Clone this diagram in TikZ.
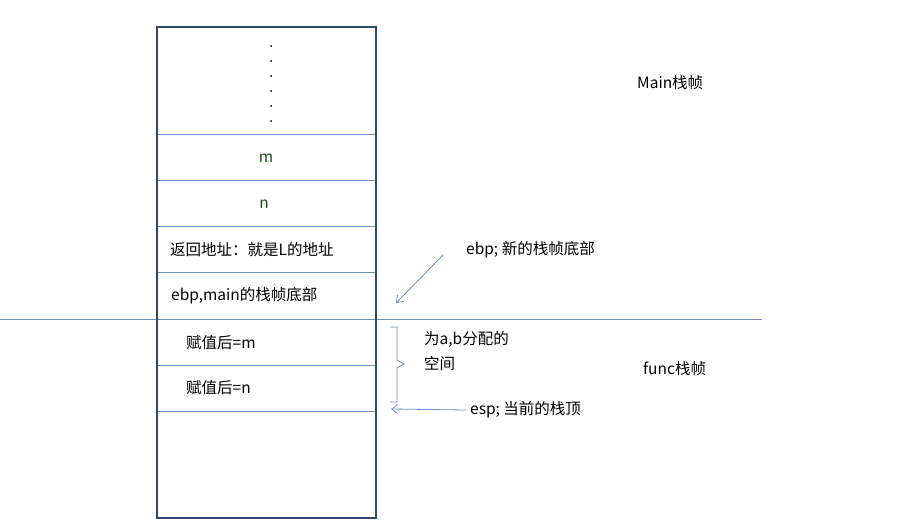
\documentclass[tikz,border=0pt]{standalone}
\usepackage{fontspec}
\usetikzlibrary{arrows.meta}
\setmainfont{Noto Sans CJK SC}
\begin{document}
\begin{tikzpicture}[x=1pt,y=-1pt,
  every node/.style={font=\fontsize{15.5}{17}\selectfont,inner sep=0pt,anchor=west},
  cell/.style={draw=cellline,line width=0.8pt},
  arr/.style={draw=cellline,line width=0.8pt,-{Straight Barb[length=6pt,width=9pt]}}]
\definecolor{boxline}{HTML}{2E4A6B}
\definecolor{cellline}{HTML}{6A8FC4}
\definecolor{tgreen}{HTML}{1E4A1E}
\useasboundingbox (0,0) rectangle (918,525);
\foreach \y in {134,180,226,272,365,411} \draw[cell] (157,\y) -- (376,\y);
\draw[cell] (0,319) -- (762,319);
\draw[draw=boxline,line width=1.4pt] (157,27) rectangle (376,518);
\foreach \y in {46,61,76,91,106,121} \fill (271,\y) circle (1pt);
\node[anchor=center,text=tgreen] (m) at (266,158) {m};
\node[anchor=center,text=tgreen] (n) at (264,204) {n};
\node (ret) at (170,250) {返回地址：就是L的地址};
\node (ebpm) at (171,296) {ebp,main的栈帧底部};
\node (am) at (186,343) {赋值后=m};
\node (an) at (186,388) {赋值后=n};
\node (mainf) at (637,83) {Main栈帧};
\node (funcf) at (643,369) {func栈帧};
\node (ebpn) at (466,250) {ebp; 新的栈帧底部};
\node[align=left,anchor=north west,font=\fontsize{15.5}{25}\selectfont] (sp) at (424,331) {为a,b分配的\\空间};
\node (esp) at (470,410) {esp; 当前的栈顶};
\coordinate (ebptip) at (396,303);
\coordinate (esptip) at (391,409);
\draw[arr] (443,255) -- (ebptip);
\draw[arr] (esp.west) ++(-4,0) -- (esptip);
\draw[cellline,line width=0.8pt] (390,327) -- (397,327) -- (397,360) -- (404,364) -- (397,368) -- (397,402) -- (390,402);
\end{tikzpicture}
\end{document}
